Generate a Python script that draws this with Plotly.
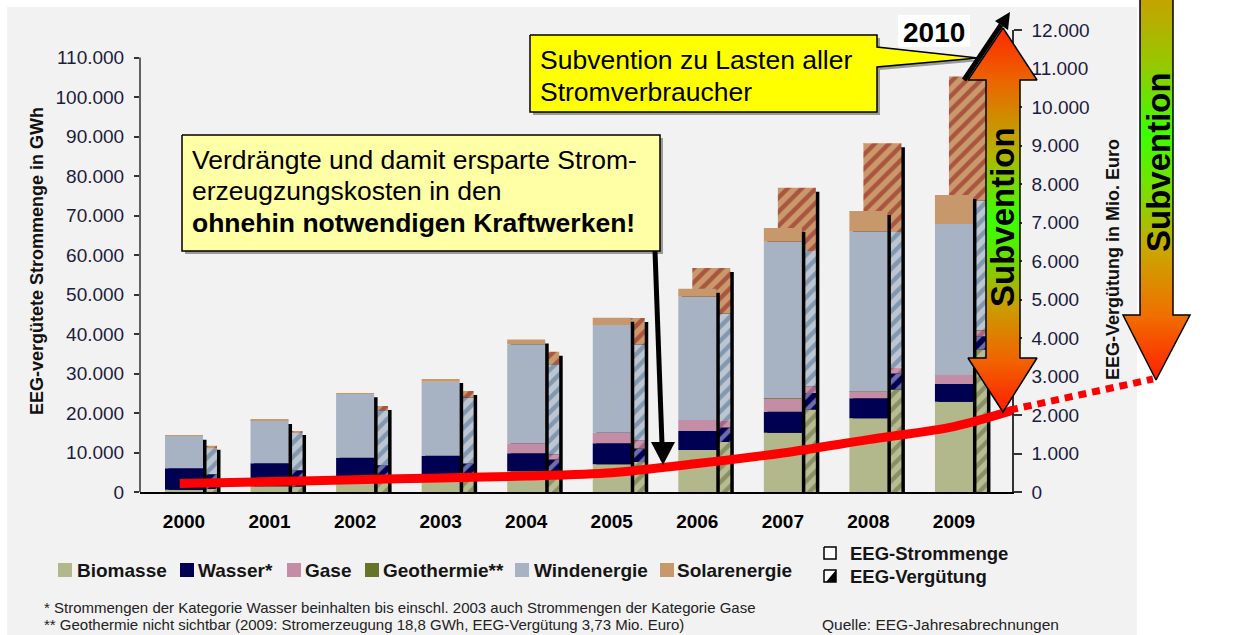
import numpy as np
import plotly.graph_objects as go

W, H = 1258, 635
FONT = "Liberation Sans, Arial, Helvetica, sans-serif"

# ---------------- data ----------------
years = [2000, 2001, 2002, 2003, 2004, 2005, 2006, 2007, 2008, 2009]
year_labels = [str(y) for y in years]

# EEG-vergütete Strommenge in GWh
strom_biomasse = [590, 1470, 2440, 3480, 5240, 7000, 10630, 15020, 18650, 22870]
strom_wasser = [5410, 5800, 6250, 5720, 4560, 5330, 4810, 5320, 5060, 4470]
strom_gase = [0, 0, 0, 0, 2530, 2680, 2790, 3370, 1690, 2280]
strom_geothermie = [0, 0, 0, 0, 0.2, 0.2, 0.4, 0.4, 17.6, 18.8]
strom_wind = [8180, 10900, 16150, 18730, 25050, 27270, 31220, 39660, 40500, 38230]
strom_solar = [40, 80, 160, 700, 1200, 1850, 2020, 3470, 5240, 7340]

# EEG-Vergütung in Mio. Euro
verg_biomasse = [80, 140, 240, 345, 520, 779, 1299, 2140, 2660, 3699]
verg_wasser = [380, 424, 454, 393, 322, 348, 374, 431, 415, 345]
verg_gase = [0, 0, 0, 0, 129, 216, 171, 174, 146, 156]
verg_geothermie = [0, 0, 0, 0, 0, 0, 0, 0, 1.6, 3.73]
verg_wind = [670, 968, 1430, 1715, 2346, 2486, 2790, 3515, 3532, 3358]
verg_solar = [70, 52, 110, 170, 328, 690, 1184, 1644, 2304, 3229]

# verdrängte / ersparte Stromerzeugungskosten (red curve), Mio. Euro
kosten_x = [1999.95, 2001, 2002, 2003, 2004, 2005, 2006, 2007, 2008, 2009, 2009.69]
kosten_y = [218, 270, 317, 366, 415, 500, 738, 1013, 1361, 1700, 2122]

left_ticks = list(range(0, 110001, 10000))
right_ticks = list(range(0, 12001, 1000))
left_ticklabels = [f"{v:,}".replace(",", ".") for v in left_ticks]
right_ticklabels = [f"{v:,}".replace(",", ".") for v in right_ticks]

series_names = ["Biomasse", "Wasser*", "Gase", "Geothermie**", "Windenergie", "Solarenergie"]
strom_series = [strom_biomasse, strom_wasser, strom_gase, strom_geothermie, strom_wind, strom_solar]
verg_series = [verg_biomasse, verg_wasser, verg_gase, verg_geothermie, verg_wind, verg_solar]
colors = ["#b3b88c", "#000052", "#c48da6", "#66742a", "#a7b3c3", "#c7986c"]
hatch_bg = ["#b8bc92", "#000052", "#c993aa", "#66742a", "#bcc6d2", "#c9996c"]
hatch_fg = ["#5c6434", "#dcdcff", "#8a3a5c", "#3a4410", "#46698c", "#8c1212"]

# ---------------- geometry ----------------
PL, PR, PT, PB = 140, 1012, 30, 492
PX_PER_YEAR = 85.55
X0 = years[0] - (184 - PL) / PX_PER_YEAR
X1 = X0 + (PR - PL) / PX_PER_YEAR
LEFT_MAX = 10000 * (PB - PT) / 39.5
RIGHT_MAX = 12000
xdom = [PL / W, PR / W]
ydom = [1 - PB / H, 1 - PT / H]

u = 1 / PX_PER_YEAR
solid_off, solid_w = -19 * u, 38 * u
hatch_off, hatch_w = -5 * u, 38 * u
shadow_dx = 3.5 * u
solid_drop = 4 * 10000 / 39.5
hatch_drop = 4 * 1000 / 38.5

fig = go.Figure()

# ---- hatched bars (EEG-Vergütung), right axis, drawn first ----
verg_total = np.sum(np.array(verg_series, dtype=float), axis=0)
fig.add_trace(go.Bar(x=years, y=verg_total - hatch_drop, base=0, offset=hatch_off + shadow_dx,
                     width=hatch_w, marker=dict(color="black", line_width=0),
                     xaxis="x", yaxis="y", showlegend=False, hoverinfo="skip"))
base = np.zeros(len(years))
for name, vals, bg, fg in zip(series_names, verg_series, hatch_bg, hatch_fg):
    fig.add_trace(go.Bar(
        x=years, y=vals, base=base.copy(), offset=hatch_off, width=hatch_w,
        marker=dict(color=bg, line_width=0,
                    pattern=dict(shape="/", bgcolor=bg, fgcolor=fg, size=10,
                                 solidity=0.45, fillmode="overlay")),
        xaxis="x", yaxis="y", name=name + " (Vergütung)", showlegend=False))
    base = base + np.array(vals, dtype=float)

# ---- solid bars (Strommenge), left axis ----
strom_total = np.sum(np.array(strom_series, dtype=float), axis=0)
fig.add_trace(go.Bar(x=years, y=strom_total - solid_drop, base=0, offset=solid_off + shadow_dx,
                     width=solid_w, marker=dict(color="black", line_width=0),
                     xaxis="x3", yaxis="y2", showlegend=False, hoverinfo="skip"))
base = np.zeros(len(years))
for name, vals, col in zip(series_names, strom_series, colors):
    fig.add_trace(go.Bar(
        x=years, y=vals, base=base.copy(), offset=solid_off, width=solid_w,
        marker=dict(color=col, line_width=0),
        xaxis="x3", yaxis="y2", name=name, showlegend=False))
    base = base + np.array(vals, dtype=float)

# ---- red curve ----
fig.add_trace(go.Scatter(x=kosten_x, y=kosten_y, mode="lines",
                         line=dict(color="#ff0000", width=9, shape="spline", smoothing=0.8),
                         xaxis="x4", yaxis="y4", showlegend=False, hoverinfo="skip"))


# ---------------- decorations (pixel coordinate layer) ----------------
def decor_poly(pts, fill=None, line_color=None, line_width=0, gradient=None):
    xs = [p[0] for p in pts] + [pts[0][0]]
    ys = [p[1] for p in pts] + [pts[0][1]]
    kw = dict(x=xs, y=ys, xaxis="x9", yaxis="y9", mode="lines", fill="toself",
              line=dict(color=line_color or "rgba(0,0,0,0)", width=line_width),
              hoverinfo="skip", showlegend=False)
    if fill:
        kw["fillcolor"] = fill
    if gradient:
        kw["fillgradient"] = gradient
    fig.add_trace(go.Scatter(**kw))


def decor_line(pts, color, width, dash=None):
    fig.add_trace(go.Scatter(x=[p[0] for p in pts], y=[p[1] for p in pts], xaxis="x9", yaxis="y9",
                             mode="lines", line=dict(color=color, width=width, dash=dash),
                             hoverinfo="skip", showlegend=False))


# red dotted continuation to 2010
decor_line([(1010, 410), (1153, 379)], "#ff0000", 7, dash="8px,6px")

# callout box 1 (light yellow)
box1 = [(182, 135), (660, 135), (660, 251), (182, 251)]
decor_poly([(x + 3, y + 3) for x, y in box1], fill="#9a9a9a")
decor_poly(box1, fill="#ffffa6", line_color="black", line_width=1.5)
decor_line([(655, 251), (662, 444)], "black", 5)
decor_poly([(651, 442), (675, 442), (663, 465)], fill="black")

# callout box 2 (yellow, with wedge)
box2 = [(530, 35), (877, 35), (877, 47), (978, 58), (877, 67), (877, 112), (530, 112)]
decor_poly([(x + 3, y + 3) for x, y in box2], fill="#9a9a9a")
decor_poly(box2, fill="#ffff00", line_color="black", line_width=1.5)

# "2010" white label background
decor_poly([(898, 15), (970, 15), (970, 47), (898, 47)], fill="white")

# double-headed gradient arrow
dbl = [(1003, 28), (1037, 80), (1020, 80), (1020, 358), (1037, 358), (1003, 412),
       (968, 358), (986, 358), (986, 80), (968, 80)]
decor_poly(dbl, line_color="black", line_width=1.5, fill="#f08000",
           gradient=dict(type="vertical", start=28, stop=412,
                         colorscale=[[0, "#ff2800"], [0.135, "#eb6400"], [0.33, "#b4b400"],
                                     [0.49, "#3cff00"], [0.56, "#50f000"], [0.72, "#c8a000"],
                                     [0.865, "#f06400"], [1, "#ff1e00"]]))

# black arrow to 2010
decor_line([(964, 80), (1001, 25)], "black", 5)
decor_poly([(1010, 12), (1008, 30), (995, 21)], fill="black")

# right down arrow
rgt = [(1140, -5), (1173, -5), (1173, 315), (1190, 315), (1156, 380), (1123, 315), (1140, 315)]
decor_poly(rgt, line_color="black", line_width=1.5, fill="#80c000",
           gradient=dict(type="vertical", start=-5, stop=380,
                         colorscale=[[0, "#c8a000"], [0.18, "#96c800"], [0.36, "#3cff00"],
                                     [0.5, "#78e000"], [0.66, "#c8a800"], [0.83, "#f07000"],
                                     [1, "#ff1e00"]]))

# legend squares
leg_sq_x = [58, 180, 287, 365, 515, 660]
leg_txt_x = [75, 196, 303, 381, 532, 675]
LEG_Y = 570
for sx, col in zip(leg_sq_x, colors):
    decor_poly([(sx, LEG_Y - 7), (sx + 14, LEG_Y - 7), (sx + 14, LEG_Y + 7), (sx, LEG_Y + 7)], fill=col)

# right legend icons
decor_poly([(824, 547), (836, 547), (836, 559), (824, 559)], fill="white", line_color="black", line_width=1.5)
decor_poly([(824, 570), (836, 570), (836, 582), (824, 582)], fill="white", line_color="black", line_width=1.5)
decor_poly([(826, 582), (836, 570), (836, 582)], fill="black")

# ---------------- annotations ----------------
ann = []


def txt(x, y, s, size, bold=False, xanchor="center", yanchor="middle", angle=0, color="black",
        align="left", bg=None):
    d = dict(x=x, y=y, xref="x9", yref="y9", text=s, showarrow=False, xanchor=xanchor,
             yanchor=yanchor, textangle=angle, align=align,
             font=dict(family=FONT, size=size, color=color, weight="bold" if bold else "normal"))
    if bg:
        d["bgcolor"] = bg
    ann.append(d)


txt(37, 261, "EEG-vergütete Strommenge in GWh", 18, bold=True, angle=-90, color="#111")
txt(1113, 260, "EEG-Vergütung in Mio. Euro", 18, bold=True, angle=-90, color="#111")

txt(190, 160, "Verdrängte und damit ersparte Strom-", 26.5, xanchor="left")
txt(190, 191, "erzeugzungskosten in den", 26.5, xanchor="left")
txt(190, 223, "ohnehin notwendigen Kraftwerken!", 26.5, bold=True, xanchor="left")
txt(538, 60, "Subvention zu Lasten aller", 26.5, xanchor="left")
txt(538, 92, "Stromverbraucher", 26.5, xanchor="left")
txt(934, 32, "2010", 28, bold=True)
txt(1002, 217, "Subvention", 33, bold=True, angle=-90)
txt(1158, 162, "Subvention", 33, bold=True, angle=-90)

for tx, name in zip(leg_txt_x, series_names):
    txt(tx, LEG_Y, name, 19, bold=True, xanchor="left", color="#151515")
txt(848, 553, "EEG-Strommenge", 18.5, bold=True, xanchor="left", color="#151515")
txt(848, 576, "EEG-Vergütung", 18.5, bold=True, xanchor="left", color="#151515")

txt(42, 607, "* Strommengen der Kategorie Wasser beinhalten bis einschl. 2003 auch Strommengen der Kategorie Gase",
    15, xanchor="left", color="#222")
txt(42, 624, "** Geothermie nicht sichtbar (2009: Stromerzeugung 18,8 GWh, EEG-Vergütung 3,73 Mio. Euro)",
    15, xanchor="left", color="#222")
txt(820, 624, "Quelle: EEG-Jahresabrechnungen", 15.5, xanchor="left", color="#222")

# ---------------- layout ----------------
tickfont = dict(family=FONT, size=19, color="#1c1c3c")
hidden = dict(visible=False, showgrid=False, zeroline=False, fixedrange=True, automargin=False)

fig.update_layout(
    template="none",
    width=W, height=H, autosize=False,
    margin=dict(l=0, r=0, t=0, b=0, pad=0, autoexpand=False),
    paper_bgcolor="white", plot_bgcolor="rgba(0,0,0,0)",
    barmode="overlay", showlegend=False,
    font=dict(family=FONT),
    xaxis=dict(domain=xdom, range=[X0, X1], anchor="y", tickmode="array", tickvals=years,
               ticktext=year_labels, ticks="", showline=True, linecolor="black", linewidth=2,
               showgrid=False, zeroline=False, fixedrange=True, ticklabelstandoff=11,
               automargin=False,
               tickfont=dict(family=FONT, size=19, color="black", weight="bold")),
    yaxis=dict(domain=ydom, range=[0, RIGHT_MAX], anchor="x", side="right", tickmode="array",
               tickvals=right_ticks, ticktext=right_ticklabels, ticks="outside", ticklen=8,
               tickwidth=1.5, tickcolor="#333", showline=True, linecolor="#333", linewidth=1.5,
               showgrid=False, zeroline=False, fixedrange=True, tickfont=tickfont,
               ticklabelstandoff=6, automargin=False),
    xaxis3=dict(domain=xdom, range=[X0, X1], anchor="y2", **hidden),
    yaxis2=dict(domain=ydom, range=[0, LEFT_MAX], anchor="x3", side="left", tickmode="array",
                tickvals=left_ticks, ticktext=left_ticklabels, ticks="outside", ticklen=5,
                tickwidth=1.5, tickcolor="#333", showline=False, showgrid=False, zeroline=False,
                fixedrange=True, tickfont=tickfont, ticklabelstandoff=6, automargin=False),
    xaxis4=dict(domain=xdom, range=[X0, X1], anchor="y4", **hidden),
    yaxis4=dict(domain=ydom, range=[0, RIGHT_MAX], anchor="x4", **hidden),
    xaxis9=dict(domain=[0, 1], range=[0, W], anchor="y9", **hidden),
    yaxis9=dict(domain=[0, 1], range=[H, 0], anchor="x9", **hidden),
    annotations=ann,
    shapes=[
        dict(type="rect", xref="paper", yref="paper", x0=7 / W, x1=1137 / W, y0=0, y1=1 - 7 / H,
             fillcolor="#f2f2f2", line_width=0, layer="below"),
        dict(type="line", xref="paper", yref="y2", x0=PL / W, x1=PL / W, y0=0, y1=110000,
             line=dict(color="#333", width=1.5), layer="above"),
    ],
)

fig.write_html("out.html", include_plotlyjs=True,
               config={"displayModeBar": False, "responsive": False},
               post_script="document.body.style.margin='0';document.body.style.overflow='hidden';")
